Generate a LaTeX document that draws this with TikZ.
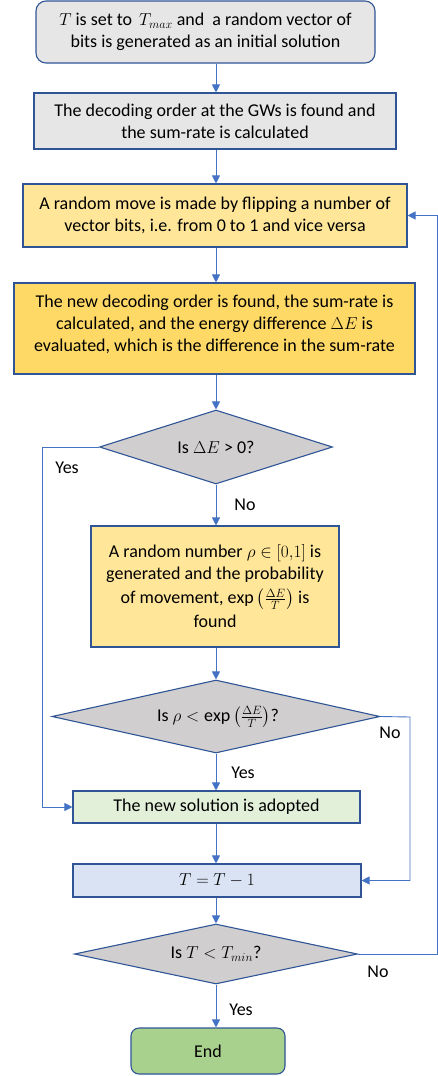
\documentclass[tikz,border=0pt]{standalone}
\usepackage{fontspec}
\setmainfont{Carlito}
\usepackage{amsmath}
\usetikzlibrary{shapes.geometric,arrows.meta,calc}
\definecolor{bord}{HTML}{2F5597}
\definecolor{conn}{HTML}{4472C4}
\definecolor{greyfill}{HTML}{E7E6E6}
\definecolor{lightyel}{HTML}{FFE699}
\definecolor{darkyel}{HTML}{FFD966}
\definecolor{diafill}{HTML}{D0CECE}
\definecolor{lightgreen}{HTML}{E2F0D9}
\definecolor{lightblue}{HTML}{DAE3F3}
\definecolor{endgreen}{HTML}{A9D18E}
\tikzset{
  box/.style={draw=bord, line width=1.1pt, align=center, inner sep=0pt, font=\fontsize{18}{22}\selectfont},
  dia/.style={draw=bord, line width=1.1pt, diamond, fill=diafill, inner sep=0pt, aspect=3},
  lbl/.style={font=\fontsize{18}{22}\selectfont, inner sep=0pt},
  conn/.style={draw=conn, line width=0.9pt},
  arr/.style={conn, -{Triangle[length=8pt,width=8pt]}}
}
\begin{document}
\begin{tikzpicture}[x=1pt,y=-1pt]
\useasboundingbox (0,0) rectangle (438,1076);
% boxes
\node[box, fill=greyfill, rounded corners=10pt, minimum width=339pt, minimum height=62pt] (b1) at (205.5,32)
  {$T$ is set to $\,T_{max}$ and \ a random vector of\\bits is generated as an initial solution};
\node[box, fill=greyfill, minimum width=362pt, minimum height=56pt] (b2) at (215,121)
  {The decoding order at the GWs is found and\\the sum-rate is calculated};
\node[box, fill=lightyel, minimum width=384pt, minimum height=63pt] (b3) at (215,215.5)
  {A random move is made by flipping a number of\\vector bits, i.e. from 0 to 1 and vice versa};
\node[box, fill=darkyel, minimum width=401pt, minimum height=91pt, text depth=10pt] (b4) at (214.5,328.5)
  {The new decoding order is found, the sum-rate is\\calculated, and the energy difference $\Delta E$ is\\evaluated, which is the difference in the sum-rate};
\node[dia, minimum width=233pt, minimum height=74pt] (d1) at (216,447) {};
\node[lbl] (d1t) at (216,447) {Is $\Delta E$ > 0?};
\node[box, fill=lightyel, minimum width=248pt, minimum height=121pt] (b5) at (215,586.5)
  {A random number $\rho\in[0{,}1]$ is\\generated and the probability\\[2pt]of movement, $\exp\left(\frac{\Delta E}{T}\right)$ is\\[2pt]found};
\node[dia, minimum width=328pt, minimum height=73pt] (d2) at (216,716.5) {};
\node[lbl] (d2t) at (218,717) {Is $\rho<\exp\left(\frac{\Delta E}{T}\right)$?};
\node[box, fill=lightgreen, minimum width=287pt, minimum height=32pt] (b6) at (216.5,807)
  {The new solution is adopted};
\node[box, fill=lightblue, minimum width=288pt, minimum height=33pt] (b7) at (217,880.5)
  {$T=T-1$};
\node[dia, minimum width=283pt, minimum height=60pt] (d3) at (216,954) {};
\node[lbl] (d3t) at (216,954) {Is $T<T_{min}$?};
\node[box, fill=endgreen, rounded corners=8pt, minimum width=154pt, minimum height=46pt] (end) at (208,1051)
  {End};
% labels
\node[lbl] (yes1) at (67,468) {Yes};
\node[lbl] (no1) at (245,505) {No};
\node[lbl] (no2) at (390,733) {No};
\node[lbl] (yes2) at (243,773) {Yes};
\node[lbl] (no3) at (378,972) {No};
\node[lbl] (yes3) at (241,1010) {Yes};
% connectors
\coordinate (cx) at (216,0);
\draw[arr] (cx |- b1.south) -- (cx |- b2.north);
\draw[arr] (cx |- b2.south) -- (cx |- b3.north);
\draw[arr] (cx |- b3.south) -- (cx |- b4.north);
\draw[arr] (cx |- b4.south) -- (d1.north);
\draw[arr] (d1.south) -- (cx |- b5.north);
\draw[arr] (cx |- b5.south) -- (d2.north);
\draw[arr] (d2.south) -- (cx |- b6.north);
\draw[arr] (cx |- b6.south) -- (cx |- b7.north);
\draw[arr] (cx |- b7.south) -- (d3.north);
\draw[arr] (d3.south) -- (cx |- end.north);
\coordinate (yl) at (42,447);
\draw[arr] (d1.west) -- (yl) |- (b6.west);
\coordinate (nr) at (410,717);
\draw[arr] (d2.east) -- (nr) |- (b7.east);
\coordinate (lr) at (437,954);
\draw[arr] (d3.east) -- (lr) |- (b3.east);
\end{tikzpicture}
\end{document}
